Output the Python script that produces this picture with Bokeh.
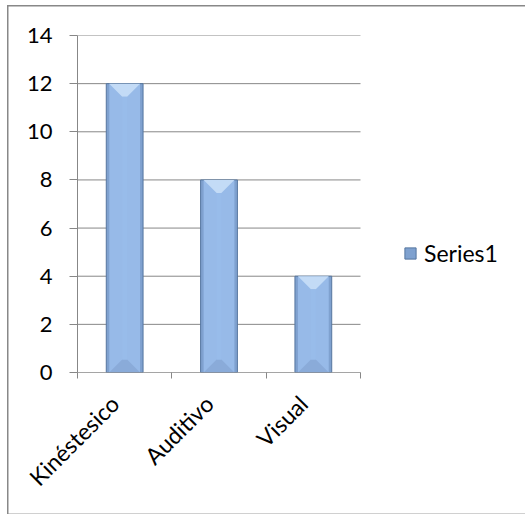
import math
from bokeh.plotting import figure
from bokeh.models import ColumnDataSource, FixedTicker, Range1d, Legend, LegendItem
from bokeh.embed import file_html
from bokeh.resources import INLINE

# Data
categories = ["Kinéstesico", "Auditivo", "Visual"]
values = [12, 8, 4]
series_name = "Series1"
y_ticks = [0, 2, 4, 6, 8, 10, 12, 14]

FONT = "Lato"
GRID = "#878787"

W, H = 525, 514
LEFT, TOP = 77, 35
PLOT_W, FRAME_H = 283, 337          # width of the category area, height of the plot
BOTTOM = H - TOP - FRAME_H
n = len(categories)
px_per_x = PLOT_W / n
x_end = (W - LEFT) / px_per_x       # frame runs on to the right so the legend fits in it

p = figure(width=W, height=H, output_backend="svg", toolbar_location=None,
           x_range=Range1d(0, x_end), y_range=Range1d(0, 14),
           min_border_left=LEFT, min_border_right=0,
           min_border_top=TOP, min_border_bottom=BOTTOM)

# Thin gray chart-area frame painted behind a transparent border area
p.border_fill_alpha = 0
p.styles = {"background":
            "linear-gradient(#888888, #888888) 7px 5px / 1.5px 509px no-repeat, "
            "linear-gradient(#888888, #888888) 7px 5px / 520px 1.5px no-repeat, "
            "linear-gradient(#d0d0d0, #d0d0d0) 7px 513px / 520px 1px no-repeat, "
            "white"}
p.outline_line_color = None
p.background_fill_color = "white"

# Horizontal gridlines across the category area only
p.xgrid.grid_line_color = None
p.ygrid.grid_line_color = None
p.segment(x0=[0] * len(y_ticks), x1=[n] * len(y_ticks), y0=y_ticks, y1=y_ticks,
          line_color=GRID, line_width=1)

# Bars with a bevelled look, positions from the data
xs = [i + 0.5 for i in range(n)]
bw = 0.39
src = ColumnDataSource(dict(x=xs, top=values))

px_per_y = FRAME_H / 14.0
bev_x = 13 / px_per_x
bev_y = 13 / px_per_y
side_x = 3 / px_per_x

bars = p.vbar(x="x", top="top", bottom=0, width=bw, source=src,
              fill_color="#7FA1CF", line_color="#56769F", line_width=1)

top_xs, top_ys, bot_xs, bot_ys, face_xs, face_ys = [], [], [], [], [], []
for x, v in zip(xs, values):
    l, r = x - bw / 2 + side_x, x + bw / 2 - side_x
    top_xs.append([l, r, r - bev_x, l + bev_x])
    top_ys.append([v, v, v - bev_y, v - bev_y])
    bot_xs.append([l, r, r - bev_x, l + bev_x])
    bot_ys.append([0, 0, bev_y, bev_y])
    face_xs.append([l + bev_x, r - bev_x, r - bev_x, l + bev_x])
    face_ys.append([v - bev_y, v - bev_y, bev_y, bev_y])

p.patches(xs=[[x - bw / 2 + side_x, x + bw / 2 - side_x, x + bw / 2 - side_x, x - bw / 2 + side_x]
              for x in xs],
          ys=[[v - 0.02, v - 0.02, 0.02, 0.02] for v in values],
          fill_color="#97BAE8", line_color=None)
p.patches(xs=top_xs, ys=top_ys, fill_color="#C3DBF6", line_color=None)
p.patches(xs=bot_xs, ys=bot_ys, fill_color="#8AABD9", line_color=None)
p.patches(xs=face_xs, ys=face_ys, fill_color="#98BCEA", line_color=None)

# Category axis line drawn over the bar bottoms
p.segment(x0=[0], x1=[n], y0=[0], y1=[0], line_color=GRID, line_width=1)

# Axes: category labels under the bars, tick marks on category boundaries
label_shift = 10 / px_per_x
label_pos = [x - label_shift for x in xs]
p.xaxis.ticker = FixedTicker(ticks=label_pos, minor_ticks=list(range(n + 1)))
p.xaxis.major_label_overrides = {x: c for x, c in zip(label_pos, categories)}
p.xaxis.major_label_orientation = math.pi / 4
p.xaxis.major_tick_line_color = None
p.xaxis.minor_tick_line_color = GRID
p.xaxis.minor_tick_out = 6
p.xaxis.minor_tick_in = 0
p.xaxis.axis_line_color = None
p.xaxis.major_label_standoff = 21
p.xaxis.major_label_text_font = FONT
p.xaxis.major_label_text_font_size = "23px"
p.xaxis.major_label_text_color = "black"

p.yaxis.ticker = FixedTicker(ticks=y_ticks)
p.yaxis.minor_tick_line_color = None
p.yaxis.major_tick_line_color = GRID
p.yaxis.major_tick_out = 8
p.yaxis.major_tick_in = 0
p.yaxis.axis_line_color = GRID
p.yaxis.major_label_standoff = 17
p.yaxis.major_label_text_font = FONT
p.yaxis.major_label_text_font_size = "22px"
p.yaxis.major_label_text_color = "black"

# Legend to the right of the bars
legend = Legend(items=[LegendItem(label=series_name, renderers=[bars])],
                location=(326, 105), padding=0, margin=0, spacing=0,
                glyph_width=14, glyph_height=14, label_height=14,
                label_standoff=7, border_line_color=None,
                background_fill_alpha=0,
                label_text_font=FONT, label_text_font_size="23px",
                label_text_color="black")
p.add_layout(legend, "center")

open("out.html", "w").write(file_html(p, INLINE))
